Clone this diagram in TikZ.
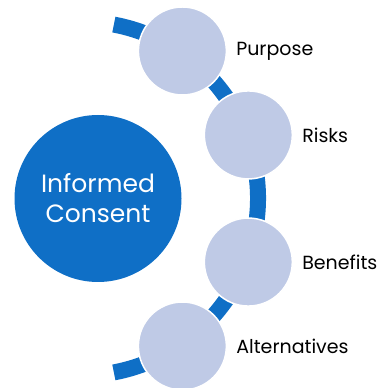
\documentclass[tikz,border=0pt]{standalone}
\usepackage{fontspec}
\setmainfont{Poppins}
\usepackage{xcolor}
\usetikzlibrary{positioning}

\definecolor{consentblue}{HTML}{0F6FC6}
\definecolor{steplight}{HTML}{BFCAE6}

\tikzset{
  topicdisc/.style={circle,fill=steplight,draw=white,line width=1.5pt,
    minimum size=88pt,inner sep=0pt},
  topiclabel/.style={right=9pt,inner sep=0pt,font=\fontsize{19}{22}\selectfont},
  arcband/.style={draw=consentblue,line width=16pt,line cap=butt},
}

\begin{document}
\begin{tikzpicture}[x=1pt,y=1pt]
  \useasboundingbox (0,0) rectangle (378,388);
  \coordinate (hub) at (81,189.5);

  % band behind the four topics
  \draw[arcband] (hub) ++(79.3:177) arc[start angle=79.3,end angle=-79.3,radius=177];

  \node (consent) [circle,fill=consentblue,minimum size=167pt,inner sep=0pt,
    text=white,align=center,font=\fontsize{25}{30}\selectfont]
    at (98,189.5) {Informed\\Consent};

  \path (hub) ++(55.5:179) node (purpose) [topicdisc] {};
  \path (hub) ++(20.8:179) node (risks) [topicdisc] {};
  \path (hub) ++(-20.8:179) node (benefits) [topicdisc] {};
  \path (hub) ++(-55.5:179) node (alternatives) [topicdisc] {};

  \node (purposetxt) [topiclabel] at (purpose.east) {Purpose};
  \node (riskstxt) [topiclabel] at (risks.east) {Risks};
  \node (benefitstxt) [topiclabel] at (benefits.east) {Benefits};
  \node (alternativestxt) [topiclabel] at (alternatives.east) {Alternatives};
\end{tikzpicture}
\end{document}
